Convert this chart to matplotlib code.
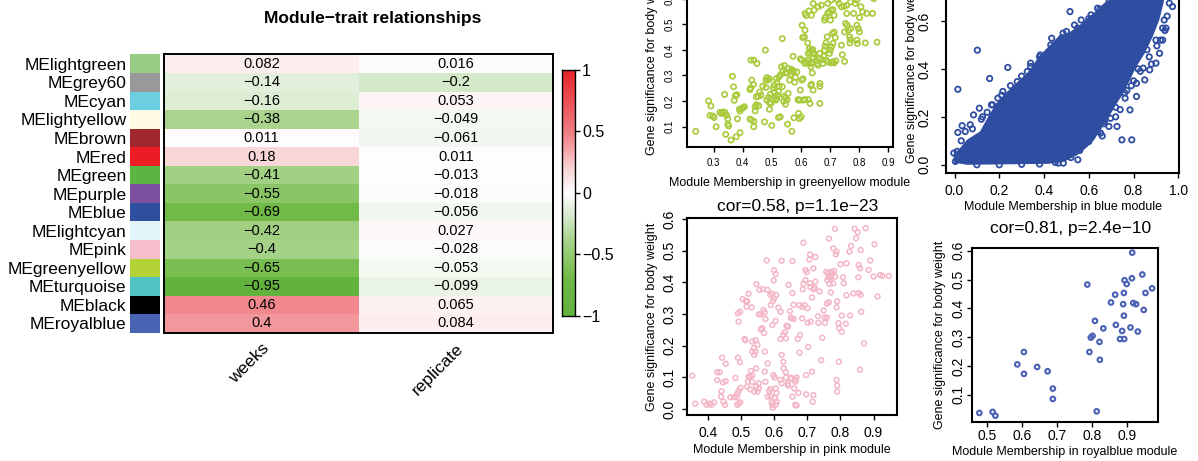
import matplotlib
matplotlib.use("Agg")
import matplotlib.pyplot as plt
import numpy as np
from matplotlib.colors import LinearSegmentedColormap

plt.rcParams['font.family'] = ['Liberation Sans', 'DejaVu Sans']

# ---------------- data: module-trait heatmap ----------------
modules = ["MElightgreen", "MEgrey60", "MEcyan", "MElightyellow", "MEbrown", "MEred",
           "MEgreen", "MEpurple", "MEblue", "MElightcyan", "MEpink", "MEgreenyellow",
           "MEturquoise", "MEblack", "MEroyalblue"]
module_colors = ["#96CD82", "#999999", "#6CCFE1", "#FFFAE3", "#A0282D", "#EC1C24",
                 "#5CB443", "#7D50A0", "#2E4E9F", "#E2F3F9", "#F6BECA", "#B2D235",
                 "#4FC3C3", "#000000", "#4863B3"]
traits = ["weeks", "replicate"]
weeks_cor = [0.082, -0.14, -0.16, -0.38, 0.011, 0.18, -0.41, -0.55, -0.69, -0.42,
             -0.4, -0.65, -0.95, 0.46, 0.4]
replicate_cor = [0.016, -0.2, 0.053, -0.049, -0.061, 0.011, -0.013, -0.018, -0.056,
                 0.027, -0.028, -0.053, -0.099, 0.065, 0.084]
cbar_ticks = [1, 0.5, 0, -0.5, -1]
heat_title = "Module\u2212trait relationships"

# ---------------- data: scatter plots ----------------
gy_mm = [0.239, 0.283, 0.291, 0.288, 0.297, 0.302, 0.309, 0.322, 0.327, 0.333, 0.340, 0.345,
         0.349, 0.349, 0.352, 0.338, 0.342, 0.360, 0.365, 0.369, 0.375, 0.380, 0.382, 0.389,
         0.391, 0.397, 0.402, 0.406, 0.378, 0.391, 0.371, 0.425, 0.428, 0.431, 0.437, 0.425,
         0.431, 0.439, 0.438, 0.443, 0.443, 0.447, 0.455, 0.447, 0.454, 0.458, 0.463, 0.469,
         0.428, 0.438, 0.449, 0.478, 0.480, 0.480, 0.483, 0.487, 0.492, 0.483, 0.489, 0.492,
         0.497, 0.492, 0.475, 0.500, 0.495, 0.505, 0.508, 0.508, 0.512, 0.514, 0.517, 0.520,
         0.523, 0.523, 0.529, 0.516, 0.525, 0.530, 0.518, 0.525, 0.536, 0.533, 0.538, 0.543,
         0.547, 0.552, 0.543, 0.547, 0.553, 0.556, 0.541, 0.547, 0.558, 0.561, 0.564, 0.565,
         0.569, 0.575, 0.573, 0.536, 0.554, 0.569, 0.576, 0.586, 0.581, 0.578, 0.592, 0.597,
         0.590, 0.598, 0.603, 0.607, 0.614, 0.618, 0.623, 0.627, 0.636, 0.634, 0.642, 0.608,
         0.614, 0.625, 0.631, 0.639, 0.592, 0.595, 0.601, 0.603, 0.598, 0.606, 0.612, 0.604,
         0.614, 0.623, 0.629, 0.625, 0.631, 0.636, 0.641, 0.643, 0.647, 0.652, 0.656, 0.664,
         0.636, 0.634, 0.641, 0.614, 0.627, 0.636, 0.618, 0.645, 0.665, 0.665, 0.665, 0.659,
         0.665, 0.672, 0.676, 0.678, 0.681, 0.683, 0.686, 0.690, 0.686, 0.692, 0.698, 0.701,
         0.705, 0.710, 0.714, 0.718, 0.708, 0.703, 0.709, 0.714, 0.720, 0.681, 0.683, 0.692,
         0.696, 0.701, 0.703, 0.710, 0.714, 0.731, 0.739, 0.748, 0.757, 0.753, 0.759, 0.763,
         0.750, 0.770, 0.739, 0.750, 0.767, 0.770, 0.768, 0.742, 0.757, 0.781, 0.787, 0.792,
         0.797, 0.801, 0.792, 0.794, 0.801, 0.806, 0.812, 0.821, 0.826, 0.846, 0.703, 0.725,
         0.770, 0.792, 0.692, 0.670, 0.659, 0.642, 0.700, 0.750, 0.800, 0.850, 0.720, 0.780,
         0.861]
gy_gs = [0.082, 0.201, 0.181, 0.144, 0.142, 0.136, 0.100, 0.156, 0.152, 0.158, 0.155, 0.145,
         0.131, 0.110, 0.103, 0.226, 0.070, 0.048, 0.297, 0.256, 0.221, 0.225, 0.131, 0.169,
         0.161, 0.171, 0.175, 0.178, 0.061, 0.077, 0.203, 0.245, 0.252, 0.282, 0.265, 0.130,
         0.126, 0.121, 0.100, 0.178, 0.162, 0.186, 0.182, 0.217, 0.219, 0.235, 0.223, 0.258,
         0.360, 0.360, 0.347, 0.399, 0.253, 0.282, 0.292, 0.282, 0.287, 0.204, 0.214, 0.194,
         0.191, 0.168, 0.119, 0.105, 0.227, 0.251, 0.262, 0.235, 0.217, 0.204, 0.209, 0.223,
         0.238, 0.136, 0.139, 0.288, 0.295, 0.303, 0.273, 0.258, 0.256, 0.334, 0.317, 0.339,
         0.310, 0.310, 0.219, 0.212, 0.206, 0.230, 0.199, 0.188, 0.327, 0.282, 0.305, 0.317,
         0.323, 0.316, 0.375, 0.444, 0.110, 0.082, 0.135, 0.314, 0.292, 0.274, 0.204, 0.204,
         0.206, 0.243, 0.282, 0.287, 0.347, 0.353, 0.360, 0.347, 0.266, 0.261, 0.243, 0.204,
         0.206, 0.206, 0.191, 0.310, 0.152, 0.132, 0.139, 0.360, 0.365, 0.448, 0.451, 0.496,
         0.477, 0.427, 0.405, 0.386, 0.391, 0.399, 0.401, 0.370, 0.383, 0.357, 0.347, 0.366,
         0.347, 0.334, 0.386, 0.542, 0.552, 0.535, 0.534, 0.555, 0.269, 0.258, 0.191, 0.340,
         0.386, 0.362, 0.347, 0.375, 0.399, 0.414, 0.427, 0.451, 0.360, 0.353, 0.386, 0.399,
         0.412, 0.425, 0.469, 0.448, 0.464, 0.349, 0.353, 0.349, 0.357, 0.516, 0.526, 0.542,
         0.548, 0.516, 0.555, 0.557, 0.535, 0.581, 0.568, 0.570, 0.574, 0.503, 0.496, 0.477,
         0.470, 0.483, 0.418, 0.355, 0.451, 0.440, 0.427, 0.381, 0.542, 0.542, 0.581, 0.496,
         0.483, 0.470, 0.438, 0.425, 0.526, 0.568, 0.548, 0.427, 0.542, 0.542, 0.594, 0.594,
         0.587, 0.594, 0.581, 0.574, 0.568, 0.581, 0.620, 0.640, 0.610, 0.600, 0.660, 0.630,
         0.430]

blue_core_mm = [0.000, -0.005, 0.019, 0.055, 0.114, 0.150, 0.187, 0.230, 0.274, 0.318, 0.347,
                0.376, 0.420, 0.464, 0.507, 0.551, 0.602, 0.638, 0.668, 0.697, 0.780, 0.850,
                0.910, 0.950, 0.930, 0.915, 0.886, 0.850, 0.813, 0.784, 0.755, 0.726, 0.690,
                0.653, 0.624, 0.595, 0.551, 0.493, 0.420, 0.055, 0.012]
blue_core_gs = [0.000, 0.045, 0.063, 0.104, 0.139, 0.200, 0.257, 0.300, 0.340, 0.375, 0.410,
                0.451, 0.493, 0.535, 0.549, 0.576, 0.618, 0.646, 0.674, 0.688, 0.740, 0.790,
                0.800, 0.740, 0.660, 0.604, 0.535, 0.465, 0.410, 0.354, 0.299, 0.257, 0.200,
                0.146, 0.104, 0.076, 0.042, 0.014, 0.004, 0.000, 0.007]
blue_mm = [0.015, 0.102, 0.157, 0.238, 0.015, 0.034, 0.085, 0.111, 0.516, 0.536, 0.762, 0.726,
           0.792, 0.748, 0.690, 0.843, 0.904, 0.390, 0.434, 0.464, 0.486, 0.551, 0.580, 0.600,
           0.653, 0.668, 0.697, 0.784, 0.813, 0.813, 0.850, 0.872, 0.900, 0.916, 0.930, 0.945,
           0.937, 0.974, 0.960, 0.434, 0.383, 0.340, 0.325, 0.280, 0.216, 0.194, 0.165, 0.146,
           0.125, 0.070, 0.048, 0.012, -0.003, 0.004, 0.566, 0.610, 0.639, 0.697, 0.485, 0.500,
           0.100, 0.200, 0.300, 0.380, 0.450, 0.520, 0.560, 0.600, 0.640, 0.670, 0.720, 0.760,
           0.800, 0.830, 0.870, 0.900, 0.930, 0.950, 0.030, 0.080, 0.120, 0.170, 0.210, 0.250,
           0.300, 0.340, 0.380, 0.430, 0.480, 0.550, 0.600, 0.650, 0.690, 0.720, 0.740, 0.660,
           0.700, 0.770, 0.860, 0.880, 0.940, 0.920, 0.820, 0.790]
blue_gs = [0.315, 0.478, 0.360, 0.406, 0.135, 0.163, 0.208, 0.236, 0.639, 0.583, 0.278, 0.160,
           0.104, 0.104, 0.160, 0.403, 0.496, 0.076, 0.076, 0.007, 0.007, 0.021, 0.090, 0.097,
           0.132, 0.171, 0.194, 0.229, 0.285, 0.340, 0.354, 0.396, 0.424, 0.465, 0.520, 0.570,
           0.604, 0.660, 0.674, 0.528, 0.458, 0.424, 0.389, 0.347, 0.306, 0.278, 0.250, 0.219,
           0.200, 0.167, 0.139, 0.056, 0.049, 0.014, 0.604, 0.625, 0.653, 0.674, 0.549, 0.556,
           0.000, 0.000, 0.002, 0.003, 0.010, 0.030, 0.060, 0.100, 0.140, 0.180, 0.240, 0.300,
           0.350, 0.390, 0.450, 0.520, 0.570, 0.620, 0.100, 0.150, 0.190, 0.250, 0.290, 0.330,
           0.370, 0.410, 0.450, 0.500, 0.530, 0.570, 0.610, 0.650, 0.680, 0.200, 0.230, 0.120,
           0.250, 0.310, 0.480, 0.420, 0.560, 0.520, 0.400, 0.330]

pink_mm = [0.352, 0.361, 0.388, 0.395, 0.403, 0.410, 0.418, 0.439, 0.446, 0.451, 0.427, 0.435,
           0.427, 0.440, 0.445, 0.453, 0.442, 0.453, 0.467, 0.478, 0.486, 0.488, 0.492, 0.497,
           0.482, 0.488, 0.492, 0.498, 0.490, 0.496, 0.490, 0.496, 0.492, 0.504, 0.514, 0.516,
           0.522, 0.531, 0.518, 0.510, 0.512, 0.520, 0.522, 0.527, 0.529, 0.533, 0.533, 0.527,
           0.518, 0.539, 0.545, 0.545, 0.539, 0.533, 0.538, 0.543, 0.543, 0.533, 0.549, 0.549,
           0.553, 0.553, 0.546, 0.555, 0.553, 0.559, 0.563, 0.559, 0.567, 0.571, 0.573, 0.565,
           0.579, 0.577, 0.569, 0.571, 0.573, 0.571, 0.580, 0.584, 0.588, 0.580, 0.588, 0.592,
           0.594, 0.595, 0.604, 0.607, 0.597, 0.601, 0.604, 0.606, 0.602, 0.588, 0.594, 0.599,
           0.589, 0.596, 0.606, 0.598, 0.604, 0.599, 0.594, 0.604, 0.612, 0.619, 0.622, 0.618,
           0.622, 0.627, 0.628, 0.635, 0.635, 0.640, 0.642, 0.622, 0.619, 0.627, 0.632, 0.635,
           0.637, 0.641, 0.643, 0.647, 0.650, 0.653, 0.655, 0.655, 0.658, 0.659, 0.650, 0.650,
           0.660, 0.663, 0.665, 0.667, 0.655, 0.663, 0.667, 0.673, 0.671, 0.678, 0.676, 0.676,
           0.684, 0.686, 0.688, 0.684, 0.692, 0.688, 0.694, 0.694, 0.698, 0.701, 0.696, 0.696,
           0.702, 0.701, 0.710, 0.708, 0.709, 0.706, 0.708, 0.714, 0.718, 0.718, 0.714, 0.716,
           0.718, 0.722, 0.724, 0.724, 0.732, 0.733, 0.737, 0.742, 0.745, 0.749, 0.752, 0.759,
           0.753, 0.760, 0.759, 0.765, 0.767, 0.757, 0.762, 0.765, 0.772, 0.767, 0.772, 0.771,
           0.781, 0.778, 0.786, 0.765, 0.783, 0.788, 0.784, 0.778, 0.776, 0.788, 0.790, 0.794,
           0.796, 0.800, 0.804, 0.804, 0.810, 0.788, 0.790, 0.790, 0.795, 0.808, 0.816, 0.818,
           0.818, 0.827, 0.829, 0.832, 0.839, 0.847, 0.843, 0.852, 0.854, 0.855, 0.859, 0.861,
           0.855, 0.861, 0.859, 0.863, 0.871, 0.876, 0.885, 0.890, 0.900, 0.903, 0.912, 0.920,
           0.927, 0.946]
pink_gs = [0.105, 0.017, 0.023, 0.013, 0.017, 0.013, 0.021, 0.039, 0.023, 0.013, 0.116, 0.116,
           0.091, 0.056, 0.084, 0.088, 0.162, 0.143, 0.037, 0.037, 0.038, 0.013, 0.018, 0.021,
           0.098, 0.049, 0.057, 0.067, 0.162, 0.148, 0.302, 0.307, 0.276, 0.347, 0.341, 0.323,
           0.364, 0.321, 0.340, 0.221, 0.217, 0.086, 0.102, 0.102, 0.120, 0.107, 0.086, 0.062,
           0.071, 0.055, 0.072, 0.128, 0.171, 0.181, 0.192, 0.217, 0.181, 0.213, 0.203, 0.055,
           0.065, 0.081, 0.394, 0.376, 0.299, 0.299, 0.255, 0.251, 0.313, 0.305, 0.284, 0.379,
           0.376, 0.469, 0.240, 0.181, 0.086, 0.118, 0.144, 0.057, 0.063, 0.039, 0.040, 0.021,
           0.013, 0.004, 0.013, 0.023, 0.107, 0.100, 0.065, 0.051, 0.034, 0.360, 0.364, 0.349,
           0.328, 0.341, 0.360, 0.406, 0.426, 0.438, 0.265, 0.278, 0.320, 0.221, 0.171, 0.092,
           0.081, 0.149, 0.128, 0.116, 0.099, 0.080, 0.074, 0.468, 0.307, 0.234, 0.242, 0.223,
           0.263, 0.260, 0.392, 0.309, 0.288, 0.286, 0.467, 0.366, 0.329, 0.284, 0.099, 0.095,
           0.065, 0.086, 0.092, 0.099, 0.039, 0.013, 0.011, 0.051, 0.221, 0.234, 0.178, 0.328,
           0.322, 0.378, 0.395, 0.286, 0.328, 0.525, 0.407, 0.439, 0.432, 0.272, 0.107, 0.046,
           0.196, 0.318, 0.276, 0.397, 0.385, 0.472, 0.488, 0.352, 0.378, 0.444, 0.118, 0.023,
           0.044, 0.383, 0.402, 0.480, 0.293, 0.272, 0.371, 0.154, 0.225, 0.311, 0.289, 0.288,
           0.272, 0.407, 0.333, 0.337, 0.395, 0.433, 0.427, 0.415, 0.433, 0.421, 0.415, 0.368,
           0.436, 0.507, 0.488, 0.538, 0.569, 0.497, 0.418, 0.397, 0.428, 0.321, 0.340, 0.271,
           0.255, 0.457, 0.244, 0.295, 0.397, 0.092, 0.074, 0.055, 0.149, 0.416, 0.269, 0.460,
           0.359, 0.497, 0.295, 0.515, 0.365, 0.539, 0.569, 0.558, 0.416, 0.455, 0.444, 0.502,
           0.366, 0.360, 0.124, 0.307, 0.207, 0.571, 0.439, 0.469, 0.418, 0.520, 0.355, 0.423,
           0.420, 0.420]

rb_mm = [0.477, 0.515, 0.523, 0.586, 0.605, 0.605, 0.643, 0.673, 0.688, 0.688, 0.787, 0.793,
         0.797, 0.802, 0.809, 0.814, 0.822, 0.823, 0.833, 0.855, 0.867, 0.869, 0.881, 0.887,
         0.890, 0.893, 0.892, 0.892, 0.894, 0.900, 0.911, 0.915, 0.916, 0.919, 0.927, 0.932,
         0.945, 0.949, 0.954, 0.973]
rb_gs = [0.0375, 0.041, 0.028, 0.206, 0.249, 0.173, 0.197, 0.182, 0.122, 0.086, 0.483, 0.249,
         0.299, 0.305, 0.357, 0.043, 0.284, 0.222, 0.331, 0.421, 0.448, 0.343, 0.294, 0.322,
         0.415, 0.294, 0.375, 0.454, 0.498, 0.485, 0.334, 0.505, 0.594, 0.419, 0.415, 0.320,
         0.518, 0.395, 0.454, 0.470]

ylab = "Gene significance for body weight"
pink_title = "cor=0.58, p=1.1e\u221223"
rb_title = "cor=0.81, p=2.4e\u221210"
gy_xticks = [0.3, 0.4, 0.5, 0.6, 0.7, 0.8, 0.9]
gy_yticks = [0.1, 0.2, 0.3, 0.4, 0.5, 0.6]
blue_xticks = [0.0, 0.2, 0.4, 0.6, 0.8, 1.0]
blue_yticks = [0.0, 0.2, 0.4, 0.6, 0.8]
pink_xticks = [0.4, 0.5, 0.6, 0.7, 0.8, 0.9]
pink_yticks = [0.0, 0.1, 0.2, 0.3, 0.4, 0.5, 0.6]
rb_xticks = [0.5, 0.6, 0.7, 0.8, 0.9]
rb_yticks = [0.1, 0.2, 0.3, 0.4, 0.5, 0.6]

# ---------------- figure ----------------
W, H = 1198, 461
fig = plt.figure(figsize=(W / 100, H / 100), dpi=100)


def ax_px(l, t, r, b):
    return fig.add_axes([l / W, 1 - b / H, (r - l) / W, (b - t) / H])


def fmt(v):
    return ("%g" % v).replace("-", "\u2212")


cmap = LinearSegmentedColormap.from_list("gwr", [
    (0.00, (95 / 255, 178 / 255, 60 / 255)),
    (0.15, (112 / 255, 186 / 255, 70 / 255)),
    (0.30, (165 / 255, 210 / 255, 135 / 255)),
    (0.40, (212 / 255, 232 / 255, 202 / 255)),
    (0.50, (1, 1, 1)),
    (0.60, (248 / 255, 212 / 255, 214 / 255)),
    (0.70, (242 / 255, 152 / 255, 156 / 255)),
    (0.75, (238 / 255, 125 / 255, 130 / 255)),
    (1.00, (230 / 255, 35 / 255, 40 / 255)),
])

# heatmap
hm = ax_px(164, 54.5, 553, 332.7)
vals = np.array([weeks_cor, replicate_cor]).T
n = len(modules)
hm.pcolormesh(np.arange(len(traits) + 1), np.arange(n + 1), vals, cmap=cmap, vmin=-1, vmax=1)
hm.set_xlim(0, len(traits))
hm.set_ylim(n, 0)
for i in range(n):
    for j in range(len(traits)):
        hm.text(j + 0.5, i + 0.5, fmt(vals[i, j]), ha="center", va="center", fontsize=10.5)
hm.set_xticks([])
hm.set_yticks([])
for s in hm.spines.values():
    s.set_linewidth(1.4)
for j, t in enumerate(traits):
    hm.annotate(t, xy=(j + 0.5, n), xycoords="data", xytext=(0, -6), textcoords="offset points",
                rotation=45, ha="right", va="top", rotation_mode="anchor", fontsize=12.5)

# module colour swatches
sw = ax_px(130, 54.5, 160, 332.7)
sw.barh(np.arange(n) + 0.5, [1] * n, height=1.0, color=module_colors, left=0)
sw.set_xlim(0, 1)
sw.set_ylim(n, 0)
sw.set_xticks([])
sw.set_yticks(np.arange(n) + 0.5)
sw.set_yticklabels(modules, fontsize=12.5)
sw.tick_params(axis="y", length=0, pad=2.5)
for s in sw.spines.values():
    s.set_visible(False)

fig.text(373 / W, 1 - 19 / H, heat_title, ha="center", va="center", fontsize=12.5, fontweight="bold")

# colour bar
cb = ax_px(561.7, 70, 575, 315.7)
grad = np.linspace(-1, 1, 256).reshape(-1, 1)
cb.imshow(grad, cmap=cmap, vmin=-1, vmax=1, aspect="auto", origin="lower", extent=(0, 1, -1, 1))
cb.set_xlim(0, 1)
cb.set_ylim(-1, 1)
cb.set_xticks([])
cb.yaxis.tick_right()
cb.set_yticks(cbar_ticks)
cb.set_yticklabels([fmt(v) for v in cbar_ticks], fontsize=11.5)
cb.tick_params(axis="y", length=3.6, width=1, pad=1.5)
for s in cb.spines.values():
    s.set_linewidth(1.0)


def style_scatter(ax, xlim, ylim, xt, yt, tick_fs, xpad, ypad, xlab, xdist, ydist, w, h):
    ax.set_xlim(*xlim)
    ax.set_ylim(*ylim)
    ax.set_xticks(xt)
    ax.set_xticklabels(["%.1f" % v for v in xt])
    ax.set_yticks(yt)
    ax.set_yticklabels(["%.1f" % v for v in yt])
    ax.tick_params(direction="out", length=3.6, width=1.0, labelsize=tick_fs, top=False, right=False)
    ax.tick_params(axis="x", pad=xpad)
    ax.tick_params(axis="y", pad=ypad, labelrotation=90)
    for lab in ax.get_yticklabels():
        lab.set_va("center")
    for s in ax.spines.values():
        s.set_linewidth(1.5)
    ax.set_xlabel(xlab, fontsize=9)
    ax.xaxis.set_label_coords(0.5, -xdist / h)
    ax.xaxis.label.set_va("center")
    ax.set_ylabel(ylab, fontsize=9)
    ax.yaxis.set_label_coords(-ydist / w, 0.5)
    ax.yaxis.label.set_va("center")


# greenyellow
a1 = ax_px(687, -26, 893, 147)
a1.scatter(gy_mm, gy_gs, s=14, facecolors="none", edgecolors="#A8CA3A", linewidths=1.2)
style_scatter(a1, (0.209, 0.916), (0.021, 0.696), gy_xticks, gy_yticks, 7, 4.5, 5,
              "Module Membership in greenyellow module", 36, 35, 206, 173)

# blue
a2 = ax_px(946, -34.7, 1179, 172.7)
a2.fill(blue_core_mm, blue_core_gs, color="#2F4EA2", lw=0)
a2.scatter(blue_mm, blue_gs, s=15, facecolors="none", edgecolors="#2F4EA2", linewidths=1.3)
style_scatter(a2, (-0.038, 1.003), (-0.033, 0.832), blue_xticks, blue_yticks, 10, 4.5, 7,
              "Module Membership in blue module", 34, 34, 233, 207.4)

# pink
a3 = ax_px(686.7, 217.7, 896.7, 415)
a3.scatter(pink_mm, pink_gs, s=12, facecolors="none", edgecolors="#F4B6C6", linewidths=1.1)
style_scatter(a3, (0.335, 0.97), (-0.019, 0.604), pink_xticks, pink_yticks, 10, 4, 3.4,
              "Module Membership in pink module", 35, 35, 210, 197.3)
a3.text(0.53, 1 + 11 / 197.3, pink_title, transform=a3.transAxes, ha="center", va="center",
        fontsize=12.5)

# royalblue
a4 = ax_px(971.7, 247.7, 1158, 422)
a4.scatter(rb_mm, rb_gs, s=11, facecolors="none", edgecolors="#4B61B5", linewidths=1.5)
style_scatter(a4, (0.455, 0.99), (0.006, 0.611), rb_xticks, rb_yticks, 10, 1.5, 1.2,
              "Module Membership in royalblue module", 30, 32, 186.3, 174.3)
a4.text(0.53, 1 + 19 / 174.3, rb_title, transform=a4.transAxes, ha="center", va="center",
        fontsize=12.5)

fig.savefig("out.png", dpi=100)
